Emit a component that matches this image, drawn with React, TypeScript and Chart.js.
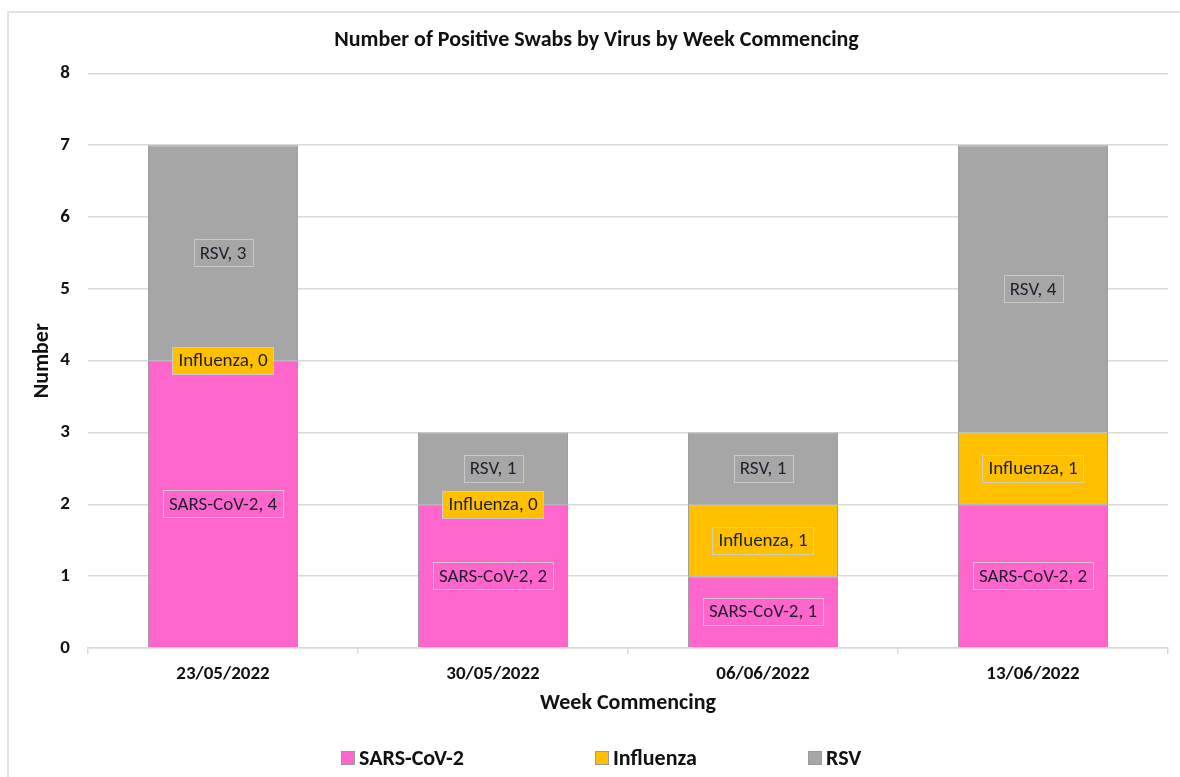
import React, { useEffect, useRef } from "react";
import { Chart, registerables } from "chart.js";

Chart.register(...registerables);

const categories = ["23/05/2022", "30/05/2022", "06/06/2022", "13/06/2022"];
const seriesNames = ["SARS-CoV-2", "Influenza", "RSV"];
const sarsValues = [4, 2, 1, 2];
const influenzaValues = [0, 0, 1, 1];
const rsvValues = [3, 1, 1, 4];
const yTicks = [0, 1, 2, 3, 4, 5, 6, 7, 8];

const colors = ["#FF66CC", "#FFC000", "#A6A6A6"];
const FONT = "Carlito, Calibri, Lato, sans-serif";
const legendX = [341, 595, 808];

const framePlugin = {
  id: "frame",
  beforeDraw(chart: any) {
    const ctx = chart.ctx;
    ctx.save();
    ctx.fillStyle = "#ffffff";
    ctx.fillRect(0, 0, chart.width, chart.height);
    ctx.strokeStyle = "#e3e3e3";
    ctx.lineWidth = 2;
    ctx.beginPath();
    ctx.moveTo(8, chart.height);
    ctx.lineTo(8, 12);
    ctx.lineTo(chart.width, 12);
    ctx.stroke();
    ctx.restore();
  },
};

const labelPlugin = {
  id: "boxLabels",
  afterDatasetsDraw(chart: any) {
    const ctx = chart.ctx;
    ctx.save();
    ctx.font = `19px ${FONT}`;
    ctx.textAlign = "center";
    ctx.textBaseline = "middle";
    chart.data.datasets.forEach((ds: any, i: number) => {
      const meta = chart.getDatasetMeta(i);
      meta.data.forEach((el: any, j: number) => {
        const v = ds.data[j];
        const text = `${ds.label}, ${v}`;
        const cy = (el.y + el.base) / 2;
        const cx = el.x;
        const w = ctx.measureText(text).width + 12;
        const h = 27;
        ctx.fillStyle = ds.backgroundColor;
        ctx.fillRect(cx - w / 2, cy - h / 2, w, h);
        ctx.strokeStyle = "rgba(205,205,205,0.9)";
        ctx.lineWidth = 1;
        ctx.strokeRect(Math.round(cx - w / 2) + 0.5, Math.round(cy - h / 2) + 0.5, Math.round(w), h);
        ctx.fillStyle = "#1f1f2e";
        ctx.fillText(text, cx, cy + 1);
      });
    });
    ctx.restore();
  },
};

const legendPlugin = {
  id: "customLegend",
  afterDraw(chart: any) {
    const ctx = chart.ctx;
    ctx.save();
    ctx.font = `bold 22px ${FONT}`;
    ctx.textBaseline = "middle";
    ctx.textAlign = "left";
    const y = 758;
    chart.data.datasets.forEach((ds: any, i: number) => {
      const x = legendX[i];
      ctx.fillStyle = ds.backgroundColor;
      ctx.fillRect(x, y - 7, 14, 14);
      ctx.strokeStyle = "#9a9a9a";
      ctx.lineWidth = 1;
      ctx.strokeRect(x + 0.5, y - 6.5, 13, 13);
      ctx.fillStyle = "#111111";
      ctx.fillText(ds.label, x + 18, y + 1);
    });
    ctx.restore();
  },
};

export default function App() {
  const ref = useRef<HTMLCanvasElement | null>(null);
  useEffect(() => {
    if (!ref.current) return;
    const chart = new Chart(ref.current, {
      type: "bar",
      data: {
        labels: categories,
        datasets: [sarsValues, influenzaValues, rsvValues].map((d, i) => ({
          label: seriesNames[i],
          data: d,
          backgroundColor: colors[i],
          borderColor: "#999999",
          borderWidth: 1,
          categoryPercentage: 1,
          barPercentage: 0.556,
        })),
      },
      options: {
        responsive: false,
        animation: false,
        devicePixelRatio: 1,
        layout: { padding: { left: 25, right: 12, top: 0, bottom: 49 } },
        plugins: {
          legend: { display: false },
          tooltip: { enabled: false },
          title: {
            display: true,
            text: "Number of Positive Swabs by Virus by Week Commencing",
            color: "#111111",
            font: { family: FONT, size: 22, weight: "bold" },
            padding: { top: 27, bottom: 20 },
          },
        },
        scales: {
          x: {
            stacked: true,
            grid: {
              offset: true,
              drawOnChartArea: false,
              drawTicks: true,
              tickLength: 6,
              color: "#d9d9d9",
              lineWidth: 1.5,
            },
            border: { display: true, color: "#d9d9d9", width: 1.5 },
            ticks: {
              color: "#111111",
              font: { family: FONT, size: 19, weight: "bold" },
              padding: 9,
            },
            title: {
              display: true,
              text: "Week Commencing",
              color: "#111111",
              font: { family: FONT, size: 22, weight: "bold" },
              padding: { top: 2, bottom: 11 },
            },
            afterFit(scale: any) {
              scale.height = 80;
            },
          },
          y: {
            stacked: true,
            min: 0,
            max: 8,
            afterBuildTicks(scale: any) {
              scale.ticks = yTicks.map((v) => ({ value: v }));
            },
            grid: { color: "#d9d9d9", lineWidth: 1.5, drawTicks: false },
            border: { display: false },
            ticks: {
              color: "#111111",
              font: { family: FONT, size: 19, weight: "bold" },
              padding: 18,
            },
            title: {
              display: true,
              text: "Number",
              color: "#111111",
              font: { family: FONT, size: 22, weight: "bold" },
              padding: { top: 4, bottom: 4 },
            },
            afterFit(scale: any) {
              scale.width = 63;
            },
          },
        },
      },
      plugins: [framePlugin, labelPlugin, legendPlugin],
    });
    return () => chart.destroy();
  }, []);
  return (
    <div style={{ position: "fixed", left: 0, top: 0, width: 1180, height: 777 }}>
      <canvas ref={ref} width={1180} height={777} style={{ display: "block", width: 1180, height: 777 }} />
    </div>
  );
}
